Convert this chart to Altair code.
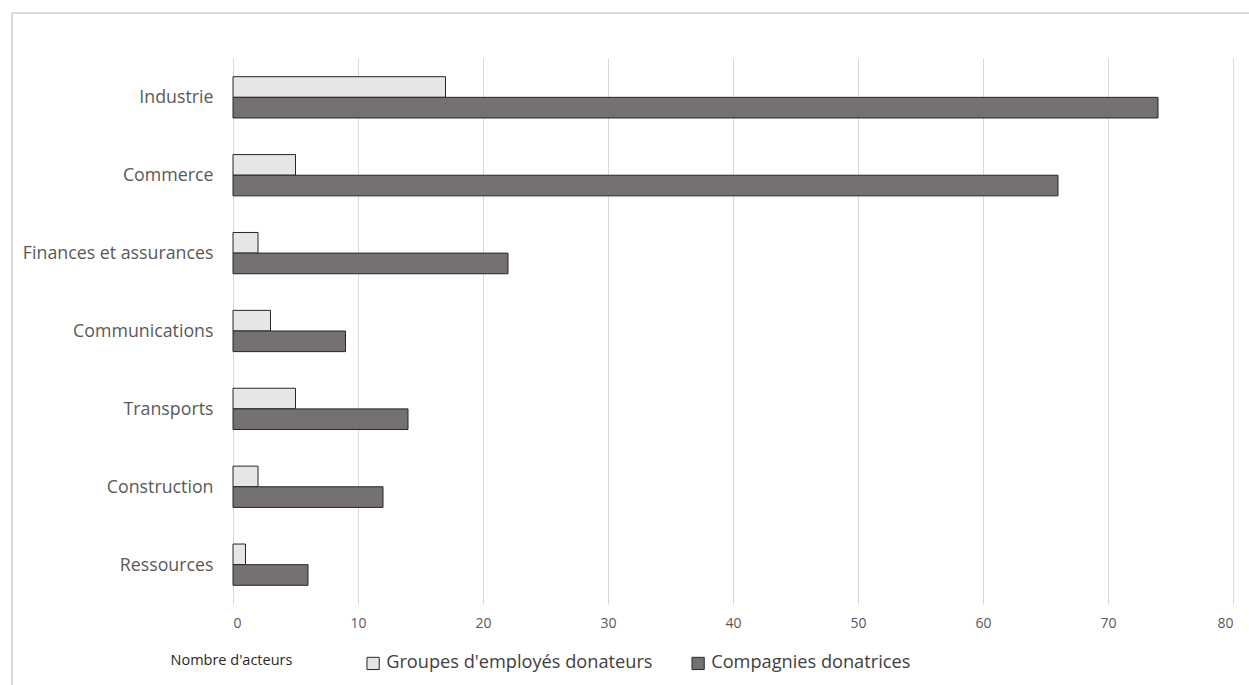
import altair as alt
import pandas as pd

# Sectors, top to bottom
secteurs = [
    "Industrie",
    "Commerce",
    "Finances et assurances",
    "Communications",
    "Transports",
    "Construction",
    "Ressources",
]
series = ["Groupes d'employés donateurs", "Compagnies donatrices"]
groupes_employes = [17, 5, 2, 3, 5, 2, 1]
compagnies = [74, 66, 22, 9, 14, 12, 6]

rows = []
for s, g, c in zip(secteurs, groupes_employes, compagnies):
    rows.append({"secteur": s, "serie": series[0], "valeur": g})
    rows.append({"secteur": s, "serie": series[1], "valeur": c})
df = pd.DataFrame(rows)

FONT = "Open Sans"
TXT = "#595959"

bars = alt.Chart(df).mark_bar(stroke="#262626", strokeWidth=1).encode(
    y=alt.Y(
        "secteur:N",
        sort=secteurs,
        scale=alt.Scale(paddingInner=0.47, paddingOuter=0.24),
        axis=alt.Axis(
            title=None,
            ticks=False,
            domain=False,
            labelFont=FONT,
            labelFontSize=17.8,
            labelColor=TXT,
            labelPadding=20,
            labelLimit=0,
            labelOffset=1,
            grid=False,
        ),
    ),
    yOffset=alt.YOffset("serie:N", sort=series),
    x=alt.X(
        "valeur:Q",
        scale=alt.Scale(domain=[0, 80], nice=False),
        axis=alt.Axis(
            values=list(range(0, 81, 10)),
            title="Nombre d'acteurs",
            titleFont=FONT,
            titleFontSize=14.5,
            titleFontWeight="normal",
            titleColor="#262626",
            titleAnchor="start",
            titleAlign="left",
            titleBaseline="middle",
            titleX=-63,
            titleY=56,
            ticks=False,
            domain=False,
            labelFont=FONT,
            labelFontSize=14,
            labelColor=TXT,
            labelPadding=12,
            grid=True,
            gridColor="#d9d9d9",
            gridWidth=1,
        ),
    ),
    color=alt.Color(
        "serie:N",
        sort=series,
        scale=alt.Scale(domain=series, range=["#e7e6e6", "#767171"]),
        legend=alt.Legend(
            title=None,
            orient="none",
            legendX=131,
            legendY=596,
            direction="horizontal",
            columns=2,
            columnPadding=36,
            symbolType="square",
            symbolSize=150,
            symbolStrokeColor="#262626",
            symbolStrokeWidth=1,
            labelFont=FONT,
            labelFontSize=18.2,
            labelColor="#404040",
            labelOffset=4,
            labelLimit=0,
        ),
    ),
)

# Thin frame around the chart area (top and left edges)
frame_top = alt.Chart(df).mark_rule(color="#d9d9d9", strokeWidth=2).encode(
    x=alt.value(-221), x2=alt.value(1020), y=alt.value(-45)
)
frame_left = alt.Chart(df).mark_rule(color="#d9d9d9", strokeWidth=2).encode(
    x=alt.value(-221), y=alt.value(-45), y2=alt.value(640)
)

chart = (
    alt.layer(frame_top, frame_left, bars)
    .properties(
        width=1000,
        height=546,
        autosize=alt.AutoSizeParams(type="none"),
        padding={"left": 233, "top": 58, "right": 16, "bottom": 81},
        background="white",
    )
    .configure_view(stroke=None)
)

chart.save("out.html", embed_options={"renderer": "svg", "actions": False})
